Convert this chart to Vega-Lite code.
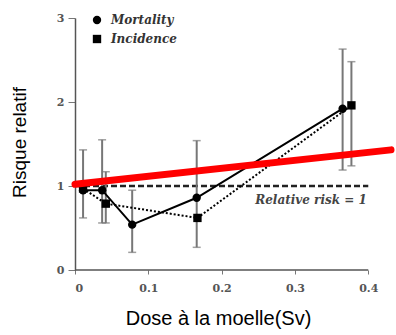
{
  "$schema": "https://vega.github.io/schema/vega-lite/v6.json",
  "autosize": "none",
  "width": 316,
  "height": 252,
  "padding": {"left": 75, "top": 18, "right": 5, "bottom": 65},
  "background": "white",
  "config": {"view": {"stroke": null}},
  "datasets": {
    "pts": [
      {"s": "Mortality", "x": 0.011, "y": 0.95, "lo": 0.62, "hi": 1.43},
      {"s": "Mortality", "x": 0.037, "y": 0.95, "lo": 0.56, "hi": 1.55},
      {"s": "Mortality", "x": 0.078, "y": 0.54, "lo": 0.21, "hi": 0.95},
      {"s": "Mortality", "x": 0.166, "y": 0.86, "lo": 0.27, "hi": 1.54},
      {"s": "Mortality", "x": 0.365, "y": 1.92, "lo": 1.19, "hi": 2.63},
      {"s": "Incidence", "x": 0.011, "y": 0.97},
      {"s": "Incidence", "x": 0.042, "y": 0.79, "lo": 0.56, "hi": 1.17},
      {"s": "Incidence", "x": 0.167, "y": 0.62},
      {"s": "Incidence", "x": 0.377, "y": 1.96, "lo": 1.24, "hi": 2.48}
    ],
    "trend": [{"x": 0, "y": 1.02}, {"x": 0.431, "y": 1.43}],
    "ref": [{"x": 0, "y": 1, "x2": 0.4, "label": "Relative risk = 1", "lx": 0.398, "ly": 0.83}],
    "xaxis": [{"x": 0, "x2": 0.4, "y": 0}]
  },
  "layer": [
    {
      "data": {"name": "xaxis"},
      "mark": {"type": "rule", "color": "#555", "strokeWidth": 1.5},
      "encoding": {
        "x": {"field": "x", "type": "quantitative", "scale": {"domain": [0, 0.431], "nice": false},
          "axis": {"domain": false, "values": [0, 0.1, 0.2, 0.3, 0.4], "format": "~g", "tickColor": "#777", "tickSize": 4, "labelColor": "#555", "labelFont": "DejaVu Serif", "labelFontWeight": "bold", "labelFontSize": 11, "labelPadding": 8, "grid": false,
            "title": "Dose à la moelle(Sv)", "titleFont": "Liberation Sans", "titleFontWeight": "normal", "titleFontSize": 20, "titleColor": "black", "titleX": 143, "titleY": 54, "titleBaseline": "alphabetic", "titleAnchor": "middle", "titleAlign": "center"}},
        "x2": {"field": "x2"},
        "y": {"field": "y", "type": "quantitative", "scale": {"domain": [0, 3], "nice": false},
          "axis": {"values": [0, 1, 2, 3], "format": "~g", "domainColor": "#555", "domainWidth": 1.5, "tickColor": "#777", "tickSize": 7, "labelColor": "#555", "labelFont": "DejaVu Serif", "labelFontWeight": "bold", "labelFontSize": 11, "labelPadding": 4, "grid": false,
            "title": "Risque relatif", "titleFont": "Liberation Sans", "titleFontWeight": "normal", "titleFontSize": 19, "titleColor": "black", "titleX": -50, "titleY": 124, "titleBaseline": "alphabetic", "titleAngle": -90, "titleAlign": "center"}}
      }
    },
    {
      "data": {"name": "ref"},
      "mark": {"type": "rule", "color": "#222", "strokeWidth": 2.5, "strokeDash": [6, 3]},
      "encoding": {
        "x": {"field": "x", "type": "quantitative"},
        "x2": {"field": "x2"},
        "y": {"field": "y", "type": "quantitative"}
      }
    },
    {
      "data": {"name": "ref"},
      "mark": {"type": "text", "align": "right", "baseline": "middle", "font": "DejaVu Serif", "fontStyle": "italic", "fontWeight": "bold", "fontSize": 12, "color": "#444"},
      "encoding": {
        "x": {"field": "lx", "type": "quantitative"},
        "y": {"field": "ly", "type": "quantitative"},
        "text": {"field": "label"}
      }
    },
    {
      "data": {"name": "pts"},
      "transform": [{"filter": "datum.lo != null"}],
      "mark": {"type": "rule", "color": "#777", "strokeWidth": 2},
      "encoding": {
        "x": {"field": "x", "type": "quantitative"},
        "y": {"field": "lo", "type": "quantitative"},
        "y2": {"field": "hi"}
      }
    },
    {
      "data": {"name": "pts"},
      "transform": [{"filter": "datum.lo != null"}, {"fold": ["lo", "hi"], "as": ["k", "v"]}],
      "mark": {"type": "tick", "orient": "horizontal", "color": "#777", "size": 8, "thickness": 1.5},
      "encoding": {
        "x": {"field": "x", "type": "quantitative"},
        "y": {"field": "v", "type": "quantitative"}
      }
    },
    {
      "data": {"name": "pts"},
      "transform": [{"filter": "datum.s == 'Mortality'"}],
      "mark": {"type": "line", "color": "black", "strokeWidth": 2},
      "encoding": {
        "x": {"field": "x", "type": "quantitative"},
        "y": {"field": "y", "type": "quantitative"}
      }
    },
    {
      "data": {"name": "pts"},
      "transform": [{"filter": "datum.s == 'Incidence'"}],
      "mark": {"type": "line", "color": "black", "strokeWidth": 2, "strokeDash": [2, 2]},
      "encoding": {
        "x": {"field": "x", "type": "quantitative"},
        "y": {"field": "y", "type": "quantitative"}
      }
    },
    {
      "data": {"name": "pts"},
      "mark": {"type": "point", "filled": true, "color": "black", "opacity": 1, "size": 70},
      "encoding": {
        "x": {"field": "x", "type": "quantitative"},
        "y": {"field": "y", "type": "quantitative"},
        "shape": {"field": "s", "type": "nominal", "scale": {"domain": ["Mortality", "Incidence"], "range": ["circle", "square"]},
          "legend": {"title": null, "orient": "none", "legendX": 16, "legendY": -4, "labelFont": "DejaVu Serif", "labelFontStyle": "italic", "labelFontWeight": "bold", "labelFontSize": 12, "labelColor": "#333", "symbolFillColor": "black", "symbolStrokeColor": "black", "symbolSize": 70, "rowPadding": 3, "labelOffset": 8}}
      }
    },
    {
      "data": {"name": "trend"},
      "mark": {"type": "line", "color": "#ff0000", "strokeWidth": 7, "strokeCap": "round"},
      "encoding": {
        "x": {"field": "x", "type": "quantitative"},
        "y": {"field": "y", "type": "quantitative"}
      }
    }
  ]
}
